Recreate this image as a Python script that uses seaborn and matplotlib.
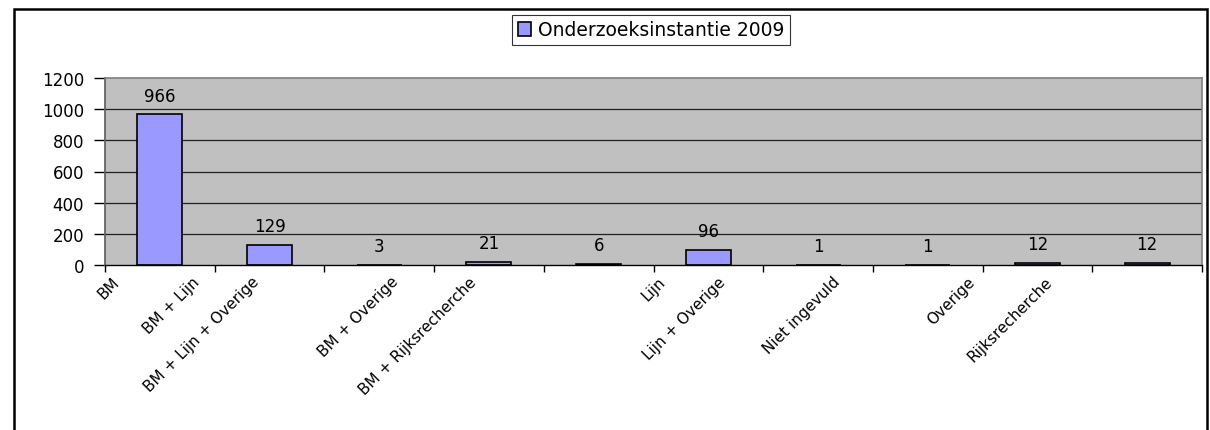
import matplotlib
matplotlib.use("Agg")
import matplotlib.pyplot as plt
import matplotlib.transforms as mtransforms
from matplotlib.patches import Rectangle
import numpy as np
import pandas as pd
import seaborn as sns

sns.set_theme(style="white")
plt.rcParams["font.family"] = ["DejaVu Sans"]
plt.rcParams["text.color"] = "black"
plt.rcParams["xtick.color"] = "black"
plt.rcParams["ytick.color"] = "black"

# data
categories = ["BM", "BM + Lijn", "BM + Lijn + Overige", "BM + Overige",
              "BM + Rijksrecherche", "Lijn", "Lijn + Overige",
              "Niet ingevuld", "Overige", "Rijksrecherche"]
values = [966, 129, 3, 21, 6, 96, 1, 1, 12, 12]
series_name = "Onderzoeksinstantie 2009"
yticks = [0, 200, 400, 600, 800, 1000, 1200]

df = pd.DataFrame({"cat": categories, "val": values})

fig = plt.figure(figsize=(12.1, 4.31), dpi=100)
ax = fig.add_axes([105 / 1210, 1 - 266 / 431, (1202 - 105) / 1210, (266 - 79) / 431])

# outer chart border
fig.patches.append(Rectangle((14 / 1210, -0.05), (1207 - 14) / 1210, 1.05 - 10 / 431,
                             transform=fig.transFigure, fill=False,
                             edgecolor="black", linewidth=1.8))

sns.barplot(data=df, x="cat", y="val", color="#9999FF", edgecolor="black",
            linewidth=1.2, width=0.41, saturation=1, ax=ax, label=series_name)

ax.set_facecolor("#C0C0C0")
ax.set_ylim(0, 1200)
ax.set_xlim(-0.5, len(categories) - 0.5)
ax.set_yticks(yticks)
ax.set_yticklabels([str(t) for t in yticks], fontsize=12, color="black")
for t in yticks[1:-1]:
    ax.axhline(t, color="#202020", linewidth=0.9, zorder=0.5)

ax.set_xlabel("")
ax.set_ylabel("")

for s in ["top", "right"]:
    ax.spines[s].set_color("#808080")
    ax.spines[s].set_linewidth(1.2)
ax.spines["left"].set_color("#606060")
ax.spines["bottom"].set_color("black")
ax.spines["bottom"].set_linewidth(1.0)

ax.tick_params(axis="y", direction="out", length=8, width=1, color="black", pad=7, left=True)
ax.set_xticks(np.arange(len(categories)))
ax.set_xticks(np.arange(len(categories) + 1) - 0.5, minor=True)
ax.tick_params(axis="x", which="major", length=0, pad=10)
ax.tick_params(axis="x", which="minor", direction="out", length=5, width=1, color="black", bottom=True)

ax.set_xticklabels(categories, rotation=45, ha="right", va="center",
                   rotation_mode="anchor", fontsize=11, color="black")

ax.bar_label(ax.containers[0], labels=[str(v) for v in values], padding=7,
             fontsize=12, color="black")

leg = fig.legend(loc="center", bbox_to_anchor=(651 / 1210, 1 - 31 / 431),
                 fontsize=13.5, frameon=True, fancybox=False, edgecolor="black",
                 handlelength=0.7, handleheight=0.7, handletextpad=0.4,
                 borderpad=0.28, labelcolor="black")
leg.get_frame().set_linewidth(0.8)
if ax.legend_:
    ax.legend_.remove()

# shift the rotated labels left, longer labels further (as in the original rendering)
fig.canvas.draw()
renderer = fig.canvas.get_renderer()
for lbl in ax.get_xticklabels():
    w = lbl.get_window_extent(renderer).width
    shift = (20 + 0.85 * w) / fig.dpi
    lbl.set_transform(lbl.get_transform() + mtransforms.ScaledTranslation(-shift, 0, fig.dpi_scale_trans))

fig.savefig("out.png", dpi=100, facecolor="white")
